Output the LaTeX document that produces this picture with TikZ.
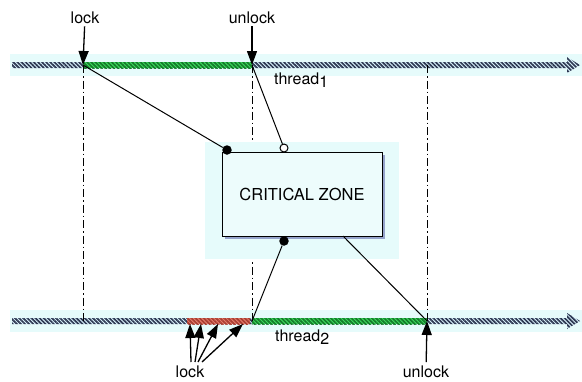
\documentclass[tikz,border=0pt]{standalone}
\usepackage{fontspec}
\setmainfont{TeX Gyre Heros}
\usepackage{tikz}
\usetikzlibrary{arrows.meta, patterns.meta, shadows, calc}
\usepackage{xcolor}
\definecolor{fascia}{HTML}{E6FBFB}
\definecolor{righe}{HTML}{2E3852}
\definecolor{verde}{HTML}{3DDA5E}
\definecolor{verdescuro}{HTML}{147A2A}
\definecolor{rosso}{HTML}{E57C6C}
\definecolor{rossoscuro}{HTML}{A83E32}
\tikzset{
    etichetta/.style = {font=\fontsize{16}{19}\selectfont, inner sep=3pt},
    freccia/.style = {-{Triangle[length=14pt,width=10pt]}, line width=1.3pt},
    tratteggio/.style = {line width=1pt, dash pattern=on 8pt off 3pt on 1.5pt off 3pt},
    linea/.style = {line width=1pt},
    punto/.style = {circle, fill=black, minimum size=9.5pt, inner sep=0pt},
    puntovuoto/.style = {circle, draw, fill=white, line width=1pt, minimum size=8pt, inner sep=0pt},
    righine/.style = {pattern={Lines[angle=-45,distance=2.9pt,line width=1.7pt]}, pattern color=#1}
}

\begin{document}
\begin{tikzpicture}[x=1pt, y=-1pt]
    \useasboundingbox (0,0) rectangle (582,381);
    \pgfmathsetmacro{\ya}{65}
    \pgfmathsetmacro{\yb}{321}
    \pgfmathsetmacro{\sp}{3}
    % Punti sui thread
    \coordinate (LockUno) at (83,\ya);
    \coordinate (UnlockUno) at (252,\ya);
    \coordinate (FineUno) at (427,\ya);
    \coordinate (InizioDue) at (83,\yb);
    \coordinate (LockDue) at (252,\yb);
    \coordinate (UnlockDue) at (427,\yb);
    % Fasce dei thread
    \foreach \y in {\ya,\yb}{
        \fill[fascia] (10,{\y-11}) rectangle (582,{\y+11});
        \fill[white!85!cyan] (12,{\y-\sp}) -- (567,{\y-\sp}) -- (567,{\y-8}) -- (580,\y) -- (567,{\y+8}) -- (567,{\y+\sp}) -- (12,{\y+\sp}) -- cycle;
        \fill[righine=righe] (12,{\y-\sp}) -- (567,{\y-\sp}) -- (567,{\y-8}) -- (580,\y) -- (567,{\y+8}) -- (567,{\y+\sp}) -- (12,{\y+\sp}) -- cycle;
    };
    % Tratto verde thread 1
    \fill[verde] (83,{\ya-\sp}) rectangle (252,{\ya+\sp});
    \fill[righine=verdescuro] (83,{\ya-\sp}) rectangle (252,{\ya+\sp});
    % Tratti verde e rosso thread 2
    \fill[verde] (252,{\yb-\sp}) rectangle (427,{\yb+\sp});
    \fill[righine=verdescuro] (252,{\yb-\sp}) rectangle (427,{\yb+\sp});
    \fill[rosso] (187,{\yb-\sp}) rectangle (250,{\yb+\sp});
    \fill[righine=rossoscuro] (187,{\yb-\sp}) rectangle (250,{\yb+\sp});
    % Linee verticali
    \draw[tratteggio] (LockUno) -- (InizioDue);
    \draw[tratteggio] (UnlockUno) -- (LockDue);
    \draw[tratteggio] (FineUno) -- (UnlockDue);
    % Zona critica
    \fill[fascia] (205,142) rectangle (399,259);
    \node[draw, line width=1pt, fill=fascia!70!white, minimum width=160pt, minimum height=84pt,
        drop shadow={shadow xshift=3pt, shadow yshift=-3pt, fill=blue!45!black, opacity=0.35},
        font=\fontsize{16.5}{19}\selectfont] (Zona) at (302,194) {CRITICAL ZONE};
    \coordinate (UscitaZona) at (343,236);
    % Collegamenti
    \node[punto] (PuntoLock) at (227,150) {};
    \node[puntovuoto] (PuntoUnlock) at (284,148) {};
    \node[punto] (PuntoSotto) at (284,241) {};
    \draw[linea] (LockUno) -- (PuntoLock);
    \draw[linea] (UnlockUno) -- (PuntoUnlock);
    \draw[linea] (PuntoSotto) -- (LockDue);
    \draw[linea] (UscitaZona) -- (UnlockDue);
    % Etichette e frecce thread 1
    \node[etichetta, anchor=base] (TestoLock) at (85,23) {lock};
    \node[etichetta, anchor=base] (TestoUnlock) at (252,23) {unlock};
    \draw[freccia] (TestoLock) -- (LockUno);
    \draw[freccia] (TestoUnlock) -- (UnlockUno);
    \node[etichetta, anchor=base west] (NomeUno) at (271,84) {thread\raisebox{-0.45ex}{1}};
    % Etichette e frecce thread 2
    \node[etichetta, anchor=base west] (NomeDue) at (272,341) {thread\raisebox{-0.45ex}{2}};
    \node[etichetta, anchor=base] (TestoLockDue) at (190,377) {lock};
    \node[etichetta, anchor=base] (TestoUnlockDue) at (426,377) {unlock};
    \draw[freccia] (TestoUnlockDue) -- (UnlockDue);
    \foreach \i/\xc/\xt in {1/190/191, 2/201/195, 3/218/198, 4/243/202}{
        \coordinate (Tentativo\i) at (\xc,324);
        \coordinate (Coda\i) at (\xt,362);
        \draw[freccia] (Coda\i) -- (Tentativo\i);
    };
\end{tikzpicture}
\end{document}
